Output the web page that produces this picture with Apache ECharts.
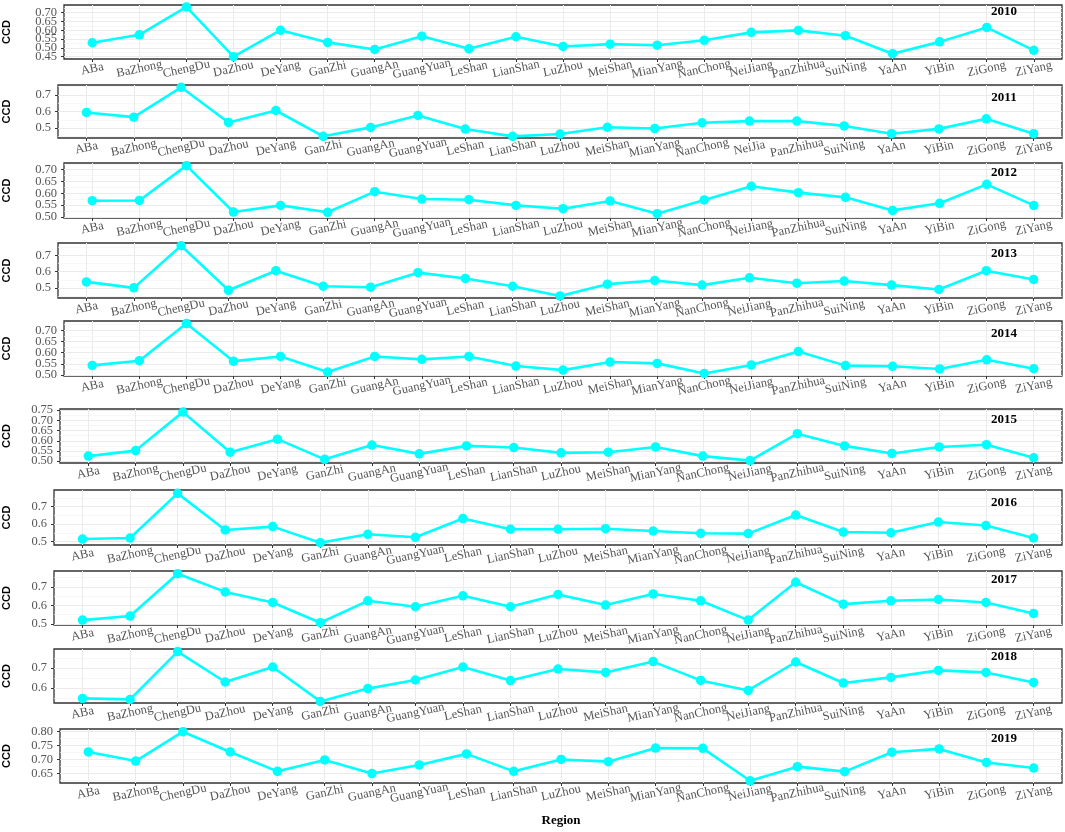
<!DOCTYPE html>
<html><head><meta charset="utf-8">
<script src="https://cdn.jsdelivr.net/npm/echarts@6/dist/echarts.min.js"></script>
<style>html,body{margin:0;padding:0;background:#fff}#chart{width:1065px;height:832px}</style>
</head><body><div id="chart"></div>
<script>
// ---------- data ----------
const categories = ['ABa','BaZhong','ChengDu','DaZhou','DeYang','GanZhi','GuangAn','GuangYuan','LeShan','LianShan','LuZhou','MeiShan','MianYang','NanChong','NeiJiang','PanZhihua','SuiNing','YaAn','YiBin','ZiGong','ZiYang'];
const categories2011 = ['ABa','BaZhong','ChengDu','DaZhou','DeYang','GanZhi','GuangAn','GuangYuan','LeShan','LianShan','LuZhou','MeiShan','MianYang','NanChong','NeiJia','PanZhihua','SuiNing','YaAn','YiBin','ZiGong','ZiYang'];
const years = ['2010','2011','2012','2013','2014','2015','2016','2017','2018','2019'];

const ccd2010 = [0.529,0.574,0.732,0.450,0.600,0.531,0.491,0.566,0.495,0.563,0.508,0.521,0.515,0.543,0.588,0.599,0.569,0.467,0.534,0.616,0.486];
const ccd2011 = [0.594,0.566,0.746,0.534,0.606,0.450,0.504,0.576,0.494,0.450,0.464,0.505,0.497,0.532,0.542,0.542,0.513,0.466,0.495,0.556,0.466];
const ccd2012 = [0.569,0.570,0.717,0.521,0.549,0.520,0.607,0.576,0.573,0.549,0.535,0.568,0.514,0.572,0.630,0.603,0.583,0.528,0.558,0.638,0.549];
const ccd2013 = [0.537,0.500,0.760,0.485,0.606,0.510,0.504,0.594,0.558,0.510,0.450,0.523,0.546,0.517,0.562,0.529,0.542,0.517,0.490,0.606,0.552];
const ccd2014 = [0.543,0.564,0.730,0.562,0.583,0.513,0.583,0.570,0.583,0.540,0.522,0.558,0.552,0.507,0.545,0.605,0.542,0.539,0.527,0.568,0.528];
const ccd2015 = [0.525,0.552,0.741,0.544,0.608,0.509,0.579,0.536,0.575,0.567,0.541,0.544,0.570,0.525,0.503,0.635,0.575,0.538,0.570,0.581,0.517];
const ccd2016 = [0.515,0.521,0.776,0.567,0.586,0.494,0.542,0.525,0.632,0.571,0.571,0.574,0.561,0.548,0.546,0.652,0.555,0.551,0.612,0.592,0.521];
const ccd2017 = [0.521,0.543,0.771,0.673,0.616,0.507,0.625,0.593,0.652,0.593,0.659,0.602,0.662,0.625,0.521,0.725,0.607,0.625,0.632,0.616,0.557];
const ccd2018 = [0.548,0.543,0.782,0.630,0.705,0.533,0.597,0.640,0.705,0.637,0.695,0.678,0.732,0.638,0.588,0.730,0.625,0.653,0.688,0.678,0.628];
const ccd2019 = [0.727,0.694,0.800,0.727,0.657,0.698,0.649,0.680,0.720,0.657,0.700,0.692,0.741,0.740,0.623,0.674,0.656,0.726,0.738,0.689,0.669];

const yTicks2010 = ['0.45','0.50','0.55','0.60','0.65','0.70'];
const yTicks2011 = ['0.5','0.6','0.7'];
const yTicks2012 = ['0.50','0.55','0.60','0.65','0.70'];
const yTicks2013 = ['0.5','0.6','0.7'];
const yTicks2014 = ['0.50','0.55','0.60','0.65','0.70'];
const yTicks2015 = ['0.50','0.55','0.60','0.65','0.70','0.75'];
const yTicks2016 = ['0.5','0.6','0.7'];
const yTicks2017 = ['0.5','0.6','0.7'];
const yTicks2018 = ['0.6','0.7'];
const yTicks2019 = ['0.65','0.70','0.75','0.80'];

const seriesValues = [ccd2010,ccd2011,ccd2012,ccd2013,ccd2014,ccd2015,ccd2016,ccd2017,ccd2018,ccd2019];
const tickLabels = [yTicks2010,yTicks2011,yTicks2012,yTicks2013,yTicks2014,yTicks2015,yTicks2016,yTicks2017,yTicks2018,yTicks2019];
const panelCategories = [categories,categories2011,categories,categories,categories,categories,categories,categories,categories,categories];

// ---------- layout (positions / axis ranges) ----------
const RIGHT_EDGE = 1062;
const layout = [
  {left:64, top:5,   height:54, min:0.4368, max:0.7432, yearY:12},
  {left:58, top:85,  height:53, min:0.440,  max:0.760,  yearY:98},
  {left:64, top:163, height:55, min:0.4958, max:0.7282, yearY:173},
  {left:58, top:243, height:55, min:0.4375, max:0.777,  yearY:254},
  {left:64, top:321, height:55, min:0.4956, max:0.7415, yearY:334},
  {left:60, top:409, height:54, min:0.4912, max:0.7559, yearY:420},
  {left:54, top:490, height:55, min:0.481,  max:0.7952, yearY:503},
  {left:54, top:571, height:54, min:0.4946, max:0.7857, yearY:580},
  {left:54, top:649, height:54, min:0.525,  max:0.795,  yearY:657},
  {left:60, top:729, height:54, min:0.615,  max:0.8097, yearY:739}
];

const SERIF = '"Liberation Serif", "Times New Roman", serif';
const SANS = '"Liberation Sans", Arial, sans-serif';
const LINE_COLOR = '#00FFFF';
const GRID_MAJOR = '#EBEBEB';
const GRID_MINOR = '#F3F3F3';
const TEXT_GREY = '#555555';
const idx = categories.map((_, i) => i);

const grids = [], xAxes = [], yAxes = [], series = [], graphics = [];

layout.forEach((p, i) => {
  const ticks = tickLabels[i].map(Number);
  const step = ticks.length > 1 ? ticks[1] - ticks[0] : 0.1;
  const minors = [];
  for (let k = -1; k < ticks.length; k++) {
    const m = +(ticks[0] + (k + 0.5) * step).toFixed(4);
    if (m > p.min && m < p.max) minors.push(m);
  }
  const labelsForPanel = tickLabels[i];
  const cats = panelCategories[i];
  const fmtY = v => {
    const j = ticks.findIndex(t => Math.abs(t - v) < 1e-6);
    return j >= 0 ? labelsForPanel[j] : '';
  };
  // split labels over two co-located axes so that crowded labels are never dropped
  const evenTicks = ticks.filter((_, k) => k % 2 === 0);
  const oddTicks = ticks.filter((_, k) => k % 2 === 1);
  const yLabelStyle = {margin: 7, fontFamily: SERIF, fontSize: 12.5, color: TEXT_GREY,
                       showMinLabel: true, showMaxLabel: true, hideOverlap: false, formatter: fmtY};

  grids.push({
    left: p.left, width: RIGHT_EDGE - p.left, top: p.top, height: p.height,
    show: true, borderColor: '#333333', borderWidth: 1.3, backgroundColor: '#ffffff',
    containLabel: false, outerBoundsMode: 'none'
  });

  xAxes.push({
    gridIndex: i, type: 'value', min: -0.6, max: 20.6,
    axisLine: {show: false, onZero: false},
    axisTick: {show: true, customValues: idx, length: 3, inside: false, lineStyle: {color: '#333333', width: 1}},
    axisLabel: {
      customValues: idx, showMinLabel: true, showMaxLabel: true, hideOverlap: false,
      formatter: v => cats[Math.round(v)],
      rotate: 12, margin: 10, align: 'center', verticalAlign: 'middle',
      fontFamily: SERIF, fontSize: 12.5, color: TEXT_GREY
    },
    splitLine: {show: true, lineStyle: {color: GRID_MAJOR, width: 1}}
  });

  // axis 3i: even labels + major grid lines
  yAxes.push({
    gridIndex: i, type: 'value', min: p.min, max: p.max, position: 'left', offset: 0,
    axisLine: {show: false, onZero: false},
    axisTick: {show: true, customValues: evenTicks, length: 3, lineStyle: {color: '#333333', width: 1}},
    axisLabel: Object.assign({customValues: evenTicks}, yLabelStyle),
    splitLine: {show: true, lineStyle: {color: GRID_MAJOR, width: 1}},
    z: 1
  });
  // axis 3i+1: odd labels + major grid lines
  yAxes.push({
    gridIndex: i, type: 'value', min: p.min, max: p.max, position: 'left', offset: 0,
    axisLine: {show: false, onZero: false},
    axisTick: {show: oddTicks.length > 0, customValues: oddTicks.length ? oddTicks : evenTicks, length: 3, lineStyle: {color: '#333333', width: 1}},
    axisLabel: Object.assign({customValues: oddTicks.length ? oddTicks : evenTicks, show: oddTicks.length > 0}, yLabelStyle),
    splitLine: {show: oddTicks.length > 0, lineStyle: {color: GRID_MAJOR, width: 1}},
    z: 1
  });
  // axis 3i+2: minor grid lines only
  yAxes.push({
    gridIndex: i, type: 'value', min: p.min, max: p.max, position: 'left', offset: 0,
    axisLine: {show: false, onZero: false},
    axisTick: {show: false, customValues: minors},
    axisLabel: {show: false, customValues: minors},
    splitLine: {show: true, lineStyle: {color: GRID_MINOR, width: 0.7}},
    z: 0
  });

  series.push({
    type: 'line', name: years[i], xAxisIndex: i, yAxisIndex: 3 * i,
    data: seriesValues[i].map((v, j) => [j, v]),
    symbol: 'circle', symbolSize: 9.5, showSymbol: true,
    lineStyle: {color: LINE_COLOR, width: 2.6},
    itemStyle: {color: LINE_COLOR},
    emphasis: {disabled: true}, clip: false, z: 5
  });

  graphics.push({
    type: 'text', x: 1004, y: p.yearY, z: 100,
    style: {text: years[i], align: 'center', verticalAlign: 'middle',
            fontFamily: SERIF, fontWeight: 'bold', fontSize: 13, fill: '#000000'}
  });
  graphics.push({
    type: 'text', x: 7, y: p.top + p.height / 2, rotation: Math.PI / 2, z: 100,
    style: {text: 'CCD', align: 'center', verticalAlign: 'middle',
            fontFamily: SANS, fontWeight: 'bold', fontSize: 11, fill: '#000000'}
  });
});

graphics.push({
  type: 'text', x: 561, y: 821, z: 100,
  style: {text: 'Region', align: 'center', verticalAlign: 'middle',
          fontFamily: SERIF, fontWeight: 'bold', fontSize: 13, fill: '#000000'}
});

const chart = echarts.init(document.getElementById('chart'), null, {renderer: 'canvas'});
chart.setOption({
  animation: false,
  backgroundColor: '#ffffff',
  grid: grids,
  xAxis: xAxes,
  yAxis: yAxes,
  series: series,
  graphic: graphics
});
</script>
</body></html>
